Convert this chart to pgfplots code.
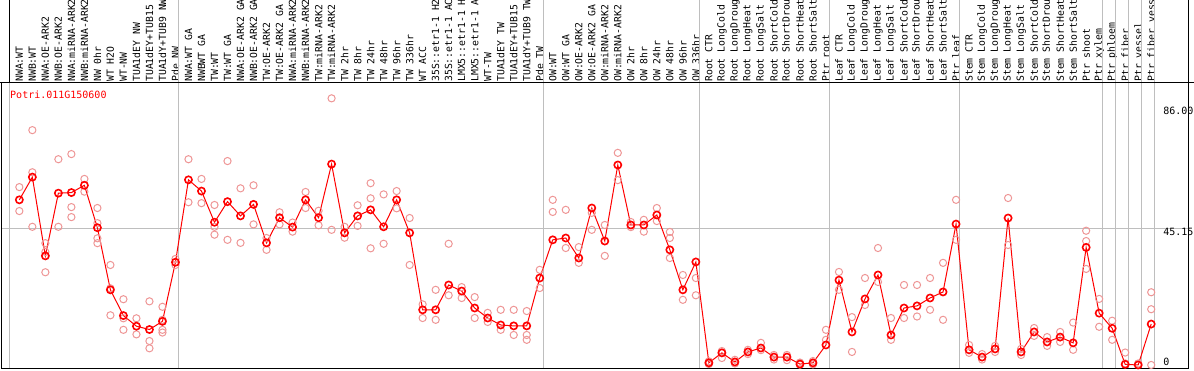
\documentclass[border=0pt]{standalone}
\usepackage{pgfplots}
\pgfplotsset{compat=1.18}
\usepackage{fontspec}
\setmainfont{DejaVu Sans Mono}
\setmonofont{DejaVu Sans Mono}
\definecolor{meanred}{RGB}{255,0,0}
\definecolor{reppink}{RGB}{238,150,150}
\definecolor{gridgray}{RGB}{190,190,190}
\begin{document}
\begin{tikzpicture}[x=1bp,y=1bp]
\useasboundingbox (0,0) rectangle (1194,370);
\clip (0,0) rectangle (1194,370);
\begin{axis}[
  at={(1bp,2bp)}, anchor=south west,
  scale only axis, width=1187bp, height=285bp,
  xmin=-1.41, xmax=89.83, ymin=-1, ymax=93.06,
  clip=false,
  axis line style={black, line width=1bp},
  xtick={0,...,87},
  xticklabel pos=upper,
  major tick length=0pt,
  xticklabel style={rotate=90, anchor=west, inner sep=1bp, font=\fontsize{9.8bp}{12bp}\selectfont},
  xticklabels={NWA:WT,NWB:WT,NWA:OE-ARK2,NWB:OE-ARK2,NWA:miRNA-ARK2,NWB:miRNA-ARK2,NW 0hr,WT H2O,WT-NW,TUA1dEY NW,TUA1dEY+TUB15 NW,TUA1dY+TUB9 NW,Pde NW,
    NWA:WT GA,NWBWT GA,TW:WT,TW:WT GA,NWA:OE-ARK2 GA,NWB:OE-ARK2 GA,TW:OE-ARK2,TW:OE-ARK2 GA,NWA:miRNA-ARK2 GA,NWB:miRNA-ARK2 GA,TW:miRNA-ARK2,TW:miRNA-ARK2 GA,TW 2hr,TW 8hr,TW 24hr,TW 48hr,TW 96hr,TW 336hr,WT ACC,35S::etr1-1 H2O,35S::etr1-1 ACC,LMX5::etr1-1 H2O,LMX5::etr1-1 ACC,WT-TW,TUA1dEY TW,TUA1dEY+TUB15 TW,TUA1dY+TUB9 TW,Pde TW,
    OW:WT,OW:WT GA,OW:OE-ARK2,OW:OE-ARK2 GA,OW:miRNA-ARK2,OW:miRNA-ARK2 GA,OW 2hr,OW 8hr,OW 24hr,OW 48hr,OW 96hr,OW 336hr,
    Root CTR,Root LongCold,Root LongDrought,Root LongHeat,Root LongSalt,Root ShortCold,Root ShortDrought,Root ShortHeat,Root ShortSalt,Ptr root,
    Leaf CTR,Leaf LongCold,Leaf LongDrought,Leaf LongHeat,Leaf LongSalt,Leaf ShortCold,Leaf ShortDrought,Leaf ShortHeat,Leaf ShortSalt,Ptr leaf,
    Stem CTR,Stem LongCold,Stem LongDrought,Stem LongHeat,Stem LongSalt,Stem ShortCold,Stem ShortDrought,Stem ShortHeat,Stem ShortSalt,Ptr shoot,Ptr xylem,
    Ptr phloem,Ptr fiber,Ptr vessel,Ptr fiber vessel},
  ytick={45.15}, yticklabels={},
  ymajorgrids, major grid style={gridgray, line width=1bp},
]
% group separators
\pgfplotsinvokeforeach{12.27,40.27,52.27,62.27,72.27,83.27,84.27,85.27,86.27,87.27}{
  \draw[gridgray, line width=1bp] (axis cs:#1,-1) -- (axis cs:#1,125);
}
\draw[gridgray, line width=1bp] (axis cs:-0.73,-1) -- (axis cs:-0.73,93.06);
\draw[black, line width=1bp] (axis cs:-0.73,93.06) -- (axis cs:-0.73,125);
\draw[black, line width=1bp] (axis cs:89.83,-1) -- (axis cs:89.83,125);
\draw[black, line width=1bp] (axis cs:-2,93.06) -- (axis cs:91,93.06);
% replicates
\addplot[only marks, mark=o, mark size=3.6bp, mark options={line width=1bp}, color=reppink] coordinates {
(0,58.7)(0,50.8)
(1,77.5)(1,63.6)(1,45.6)
(2,40.2)(2,37.3)(2,30.6)
(3,67.9)(3,45.6)
(4,69.6)(4,52.1)(4,48.8)
(5,61.4)(5,57.2)
(6,51.8)(6,46.8)(6,41.8)(6,40.2)
(7,33.0)(7,25.3)(7,16.4)
(8,21.7)(8,15.4)(8,11.6)
(9,15.4)(9,10.1)
(10,21.0)(10,7.9)(10,5.5)
(11,19.2)(11,14.9)(11,11.6)(11,10.7)
(12,35.0)(12,33.0)
(13,67.9)(13,53.7)
(14,61.4)(14,53.4)
(15,52.8)(15,45.6)(15,43.0)
(16,67.3)(16,41.3)
(17,58.3)(17,40.3)
(18,59.3)(18,46.4)
(19,41.9)(19,38.0)
(20,50.4)(20,46.4)
(21,47.0)(21,44.0)
(22,57.1)(22,51.8)
(23,50.9)(23,46.1)
(24,88.0)(24,44.6)
(25,45.6)(25,42.0)
(26,52.7)(26,45.9)
(27,60.0)(27,55.0)(27,38.5)
(28,56.3)(28,40.0)
(29,57.4)(29,51.7)
(30,48.5)(30,33.0)
(31,20.0)(31,15.5)
(32,24.8)(32,14.9)
(33,40.0)(33,23.0)
(34,25.7)(34,22.1)
(35,22.4)(35,15.5)
(36,17.2)(36,14.2)
(37,18.2)(37,11.6)
(38,18.2)(38,9.9)
(39,17.8)(39,9.9)(39,8.3)
(40,31.4)(40,25.4)
(41,54.5)(41,50.5)
(42,51.2)(42,38.6)
(43,38.9)(43,33.7)
(44,50.2)(44,44.6)
(45,46.2)(45,36.0)
(46,70.0)(46,61.0)
(47,47.2)(47,45.5)
(48,47.9)(48,44.0)
(49,51.8)(49,47.5)
(50,43.9)(50,41.9)(50,35.3)
(51,29.7)(51,21.5)
(52,28.7)(52,23.0)
(53,1.2)(53,0.3)
(54,4.6)(54,2.3)
(55,1.7)(55,0.5)
(56,5.0)(56,3.6)
(57,7.3)(57,4.9)
(58,3.3)(58,1.8)
(59,3.3)(59,1.6)
(60,0.8)(60,0.1)
(61,1.3)(61,0.2)
(62,11.6)(62,8.3)
(63,30.7)(63,24.8)
(64,15.8)(64,4.3)
(65,28.7)(65,19.8)
(66,38.6)(66,27.4)
(67,15.5)(67,8.3)
(68,26.4)(68,15.5)
(69,26.4)(69,16.0)
(70,28.7)(70,18.2)
(71,33.7)(71,14.9)
(72,54.5)(72,41.3)
(73,6.6)(73,4.0)
(74,3.6)(74,1.8)
(75,6.3)(75,4.3)
(76,55.1)(76,39.6)
(77,5.3)(77,3.3)
(78,12.2)(78,9.6)
(79,9.2)(79,6.3)
(80,10.9)(80,7.6)
(81,14.0)(81,5.0)
(82,44.3)(82,40.9)(82,31.7)
(83,21.8)(83,12.6)
(84,14.6)(84,8.3)
(85,4.1)(85,0.5)
(86,0.5)
(87,24.0)(87,18.4)(87,0.0)
};
% means
\addplot[color=meanred, line width=1bp, mark=o, mark size=3.6bp, mark options={line width=1.6bp}] coordinates {
(0,54.5)(1,62.0)(2,36.0)(3,56.7)(4,56.9)(5,59.3)(6,45.3)(7,24.8)(8,16.3)(9,12.8)
(10,11.7)(11,14.4)(12,33.9)(13,61.1)(14,57.4)(15,47.1)(16,53.9)(17,49.2)(18,53.0)(19,40.3)
(20,48.6)(21,45.5)(22,54.5)(23,48.6)(24,66.3)(25,43.6)(26,49.2)(27,51.2)(28,45.6)(29,54.5)
(30,43.6)(31,18.2)(32,18.2)(33,26.4)(34,24.4)(35,18.8)(36,15.5)(37,13.2)(38,12.9)(39,12.9)
(40,28.7)(41,41.3)(42,41.9)(43,35.3)(44,51.8)(45,40.9)(46,66.0)(47,46.2)(48,46.2)(49,49.5)
(50,38.0)(51,24.8)(52,34.0)(53,0.7)(54,4.0)(55,1.0)(56,4.3)(57,5.6)(58,2.6)(59,2.6)
(60,0.3)(61,0.7)(62,6.6)(63,28.0)(64,10.9)(65,21.8)(66,29.7)(67,9.9)(68,18.8)(69,19.5)
(70,22.1)(71,24.1)(72,46.5)(73,5.0)(74,2.6)(75,5.3)(76,48.5)(77,4.3)(78,10.9)(79,7.6)
(80,9.2)(81,7.3)(82,38.8)(83,17.1)(84,12.1)(85,0.2)(86,0.0)(87,13.5)
};
\node[anchor=north west, inner sep=0pt, text=meanred, font=\fontsize{10bp}{12bp}\selectfont] at (rel axis cs:0.0076,0.972) {Potri.011G150600};
\node[anchor=west, inner sep=0pt, font=\fontsize{10bp}{12bp}\selectfont] at (rel axis cs:0.9790,0.9018) {86.00};
\node[anchor=west, inner sep=0pt, font=\fontsize{10bp}{12bp}\selectfont] at (rel axis cs:0.9790,0.4772) {45.15};
\node[anchor=west, inner sep=0pt, font=\fontsize{10bp}{12bp}\selectfont] at (rel axis cs:0.9790,0.0211) {0};
\end{axis}
\end{tikzpicture}
\end{document}
